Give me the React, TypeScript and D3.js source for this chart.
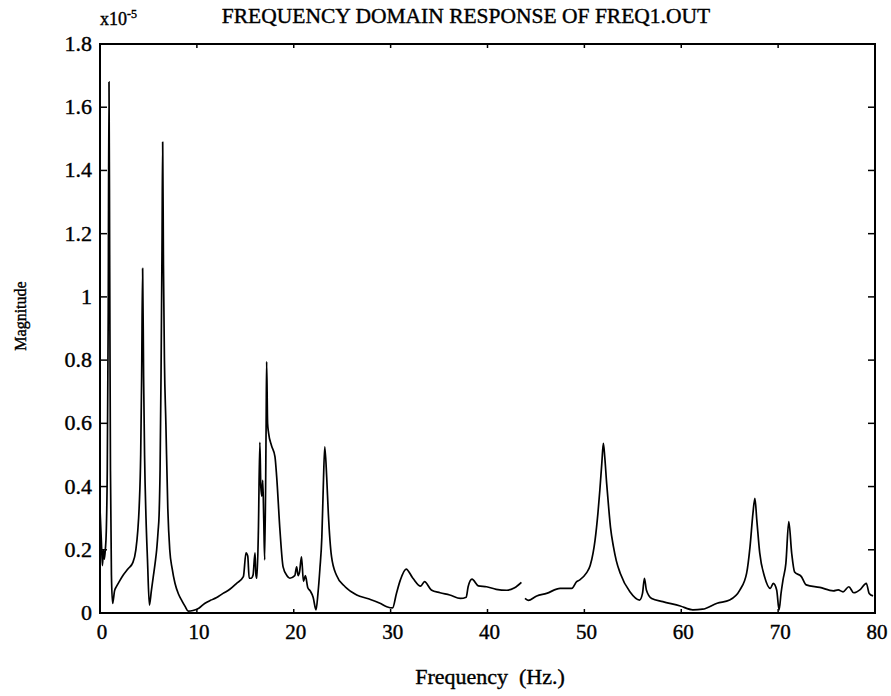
import * as d3 from "d3";
import { useEffect, useRef } from "react";

// frequency (Hz) and magnitude (x1e-5); null marks the break in the trace
const freqs = [
  0, 0.15, 0.25, 0.35, 0.45, 0.55, 0.65, 0.75, 0.85, 0.93, 1.0, 1.08, 1.18, 1.3, 1.5, 1.72, 2.0, 2.4, 2.9,
  3.4, 3.7, 3.9, 4.05, 4.2, 4.3, 4.4, 4.5, 4.6, 4.75, 4.9, 5.1, 5.3, 5.5, 5.7, 5.85, 6.0, 6.1, 6.2, 6.3,
  6.4, 6.47, 6.55, 6.65, 6.8, 7.0, 7.2, 7.45, 7.74, 8.1, 8.43, 8.8, 9.1, 9.6, 10.2, 10.8, 11.4, 12.0, 12.7,
  13.4, 14.1, 14.8, 15.07, 15.25, 15.4, 15.6, 15.8, 16.0, 16.1, 16.2, 16.35, 16.5, 16.6, 16.7, 16.8, 16.9,
  17.0, 17.15, 17.2, 17.3, 17.4, 17.7, 18.06, 18.24, 18.58, 18.9, 19.3, 19.6, 20.1, 20.3, 20.45, 20.6,
  20.8, 21.0, 21.2, 21.45, 21.7, 22.0, 22.3, 22.5, 22.7, 22.9, 23.05, 23.2, 23.4, 23.57, 23.9, 24.4,
  25.3, 26.5, 27.7, 28.9, 29.6, 30.2, 30.6, 31.0, 31.6, 32.3, 33.1, 33.5, 34.2, 35.1, 36.1, 37.2, 37.8,
  38.0, 38.4, 39.05, 39.9, 40.9, 42.0, 42.8, 43.5, 43.7, 43.87, 44.2, 45.08, 46.1, 47.5, 48.7, 49.2,
  49.5, 50.2, 50.6, 50.9, 51.1, 51.4, 51.6, 51.8, 51.96, 52.1, 52.3, 52.5, 52.7, 53.0, 53.3, 53.7, 54.7,
  55.7, 56.0, 56.2, 56.4, 56.95, 58.1, 59.9, 61.2, 62.2, 63.7, 65.0, 66.06, 66.75, 67.1, 67.4, 67.6,
  67.8, 68.1, 68.6, 69.2, 69.5, 69.85, 70.1, 70.3, 70.5, 70.8, 71.1, 71.4, 71.7, 72.4, 72.9, 74.3, 75.7,
  76.2, 76.7, 77.3, 77.8, 78.5, 79.1, 79.4, 79.8,
];
const magnitudes = [
  0.33, 0.22, 0.15, 0.2, 0.17, 0.2, 0.26, 0.45, 0.95, 1.68, 1.1, 0.45, 0.12, 0.03, 0.07, 0.085, 0.1, 0.12,
  0.14, 0.16, 0.2, 0.26, 0.34, 0.5, 0.75, 1.09, 0.75, 0.5, 0.3, 0.17, 0.025, 0.07, 0.115, 0.16, 0.2, 0.26,
  0.31, 0.45, 0.75, 1.15, 1.49, 1.1, 0.8, 0.6, 0.33, 0.2, 0.14, 0.094, 0.06, 0.04, 0.02, 0.006, 0.008,
  0.015, 0.03, 0.04, 0.048, 0.062, 0.075, 0.094, 0.115, 0.19, 0.18, 0.11, 0.11, 0.12, 0.19, 0.12, 0.11,
  0.26, 0.54, 0.4, 0.37, 0.42, 0.3, 0.168, 0.6, 0.795, 0.6, 0.57, 0.53, 0.495, 0.43, 0.26, 0.146, 0.118,
  0.11, 0.118, 0.146, 0.118, 0.13, 0.178, 0.1, 0.118, 0.08, 0.07, 0.05, 0.01, 0.062, 0.14, 0.24, 0.4,
  0.526, 0.43, 0.315, 0.178, 0.12, 0.083, 0.057, 0.045, 0.031, 0.02, 0.016, 0.062, 0.104, 0.139, 0.11,
  0.085, 0.099, 0.073, 0.064, 0.057, 0.046, 0.05, 0.083, 0.107, 0.086, 0.083, 0.075, 0.072, 0.08, 0.097,
  null, 0.046, 0.04, 0.054, 0.062, 0.078, 0.078, 0.099, 0.104, 0.126, 0.15, 0.19, 0.23, 0.316, 0.39,
  0.474, 0.537, 0.495, 0.41, 0.336, 0.27, 0.21, 0.165, 0.126, 0.067, 0.041, 0.062, 0.11, 0.073, 0.046,
  0.036, 0.022, 0.01, 0.012, 0.031, 0.041, 0.073, 0.126, 0.21, 0.315, 0.363, 0.294, 0.19, 0.115, 0.078,
  0.094, 0.073, 0.01, 0.062, 0.104, 0.157, 0.289, 0.189, 0.13, 0.115, 0.089, 0.081, 0.07, 0.073, 0.067,
  0.083, 0.064, 0.075, 0.094, 0.062, 0.054,
];
const xTicks = [0, 10, 20, 30, 40, 50, 60, 70, 80];
const yTicks = [0, 0.2, 0.4, 0.6, 0.8, 1, 1.2, 1.4, 1.6, 1.8];

const App = () => {
  const svgRef = useRef<SVGSVGElement>(null);

  useEffect(() => {
    const width = 891;
    const height = 696;
    const left = 100, right = 875, top = 44, bottom = 613;
    const font = "'Liberation Serif', 'Times New Roman', serif";

    const svg = d3.select(svgRef.current).attr("width", width).attr("height", height);
    svg.selectAll("*").remove();

    const x = d3.scaleLinear().domain([0, 80]).range([left, right]);
    const y = d3.scaleLinear().domain([0, 1.8]).range([bottom, top]);

    const data = freqs.map((f, i) => ({ f, m: magnitudes[i] }));

    // trace
    svg
      .append("path")
      .datum(data)
      .attr("fill", "none")
      .attr("stroke", "#000")
      .attr("stroke-width", 1.7)
      .attr("stroke-linejoin", "round")
      .attr(
        "d",
        d3
          .line<any>()
          .defined((d) => d.m != null)
          .curve(d3.curveMonotoneX)
          .x((d) => x(d.f))
          .y((d) => y(d.m))
      );

    // frame
    svg
      .append("rect")
      .attr("x", left)
      .attr("y", top)
      .attr("width", right - left)
      .attr("height", bottom - top)
      .attr("fill", "none")
      .attr("stroke", "#000")
      .attr("stroke-width", 2);

    const tick = 7;
    const ticks = svg.append("g").attr("stroke", "#000").attr("stroke-width", 1.5);
    xTicks.slice(1, -1).forEach((t) => {
      ticks.append("line").attr("x1", x(t)).attr("x2", x(t)).attr("y1", bottom).attr("y2", bottom - 4);
      ticks.append("line").attr("x1", x(t)).attr("x2", x(t)).attr("y1", top).attr("y2", top + 4);
    });
    yTicks.slice(1, -1).forEach((t) => {
      ticks.append("line").attr("x1", left).attr("x2", left + tick).attr("y1", y(t)).attr("y2", y(t));
      ticks.append("line").attr("x1", right).attr("x2", right - tick).attr("y1", y(t)).attr("y2", y(t));
    });

    // scanned print is heavy, so give the text a thin outline
    const labels = svg
      .append("g")
      .attr("font-family", font)
      .attr("fill", "#000")
      .attr("stroke", "#000")
      .attr("stroke-width", 0.4);

    labels
      .selectAll("text.xt")
      .data(xTicks)
      .join("text")
      .attr("class", "xt")
      .attr("x", (d) => x(d) + 2)
      .attr("y", 639)
      .attr("text-anchor", "middle")
      .attr("font-size", 21)
      .text((d) => d);

    labels
      .selectAll("text.yt")
      .data(yTicks)
      .join("text")
      .attr("class", "yt")
      .attr("x", left - 8)
      .attr("y", (d) => y(d) + 7)
      .attr("text-anchor", "end")
      .attr("font-size", 22)
      .text((d) => d3.format("~g")(d));

    // exponent
    const exp = labels.append("text").attr("x", left).attr("y", 25).attr("font-size", 18);
    exp.append("tspan").text("x10");
    exp.append("tspan").attr("font-size", 12).attr("dy", -7).text("-5");

    labels
      .append("text")
      .attr("x", 466)
      .attr("y", 23)
      .attr("text-anchor", "middle")
      .attr("font-size", 21.5)
      .text("FREQUENCY DOMAIN RESPONSE OF FREQ1.OUT");

    labels
      .append("text")
      .attr("transform", "translate(26,316) rotate(-90)")
      .attr("text-anchor", "middle")
      .attr("font-size", 16)
      .text("Magnitude");

    labels
      .append("text")
      .attr("x", 490)
      .attr("y", 684)
      .attr("text-anchor", "middle")
      .attr("font-size", 22)
      .style("white-space", "pre")
      .text("Frequency  (Hz.)");
  }, []);

  return <svg ref={svgRef} style={{ position: "absolute", left: 0, top: 0, background: "#fff" }}></svg>;
};

export default App;
